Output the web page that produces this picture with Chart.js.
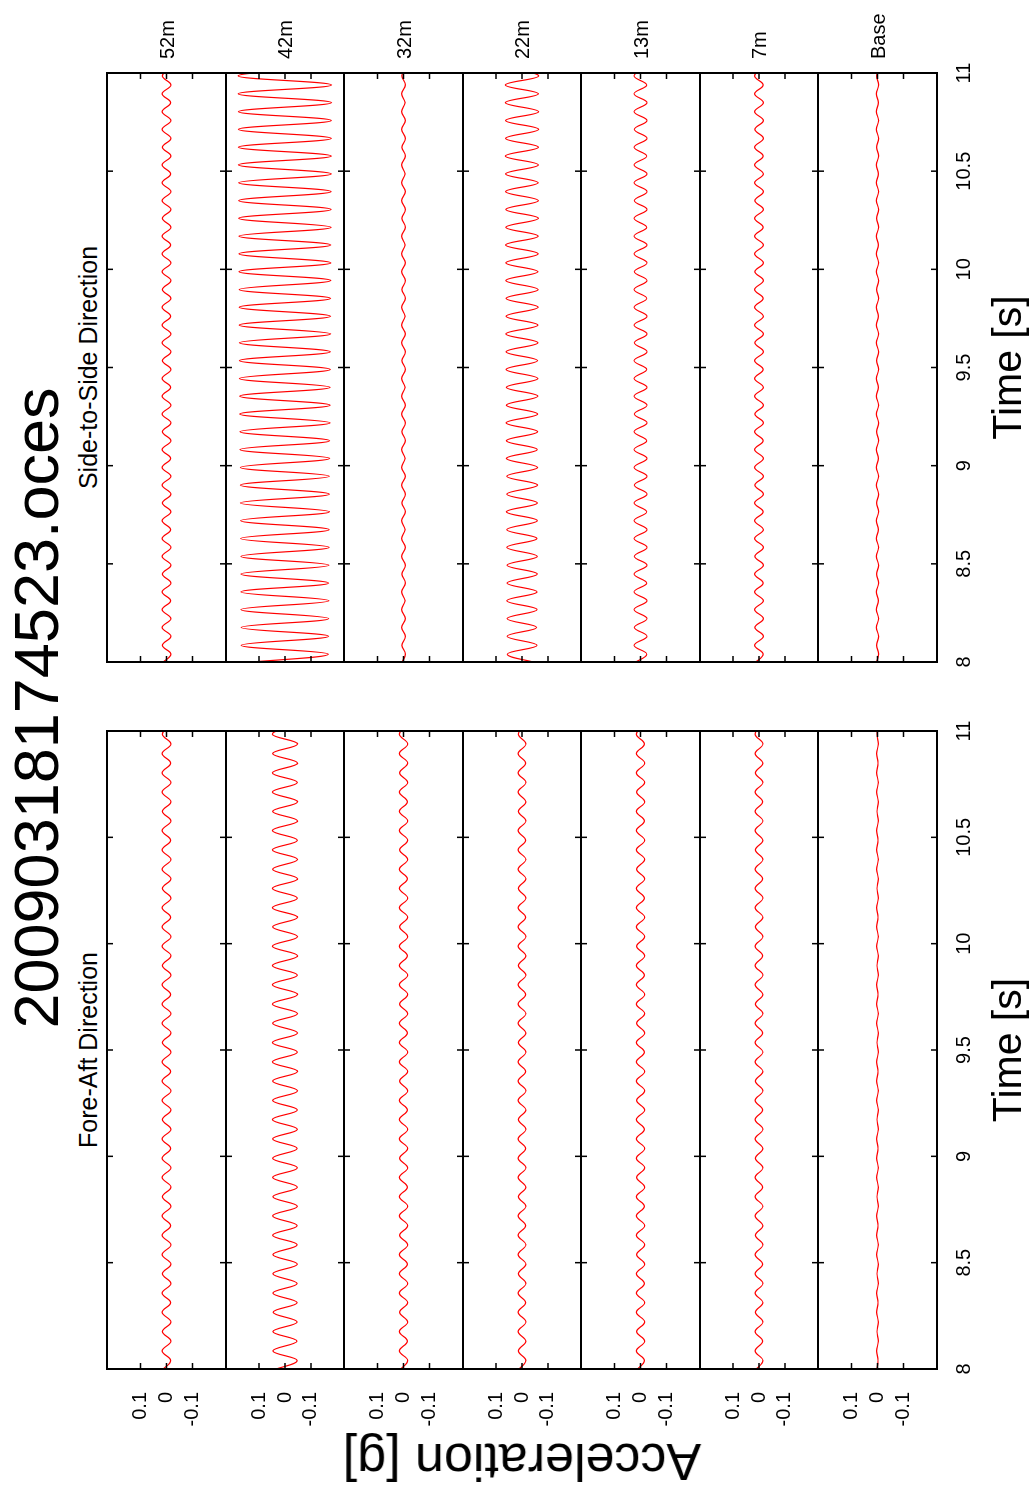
<!DOCTYPE html>
<html>
<head>
<meta charset="utf-8">
<script src="https://cdn.jsdelivr.net/npm/chart.js@4.4.1/dist/chart.umd.min.js"></script>
<style>
html, body { margin: 0; padding: 0; background: #fff; width: 1034px; height: 1495px; overflow: hidden; }
/* the plot is laid out in landscape and turned a quarter turn to the left */
#page { position: absolute; left: 0; top: 0; width: 1495px; height: 1034px; transform-origin: 0 0;
        transform: translate(0px, 1495px) rotate(-90deg); font-family: "Liberation Sans", Arial, sans-serif; color: #000; }
.lbl { position: absolute; white-space: nowrap; line-height: 1; }
canvas { position: absolute; }
</style>
</head>
<body>
<div id="page"></div>
<script>
// time of each extreme of the traces [s]
const time = [7.995,8.040,8.085,8.131,8.176,8.221,8.267,8.312,8.357,8.402,
  8.448,8.493,8.538,8.584,8.629,8.674,8.720,8.765,8.810,8.855,
  8.901,8.946,8.991,9.037,9.082,9.127,9.173,9.218,9.263,9.308,
  9.354,9.399,9.444,9.490,9.535,9.580,9.626,9.671,9.716,9.761,
  9.807,9.852,9.897,9.943,9.988,10.033,10.079,10.124,10.169,10.214,
  10.260,10.305,10.350,10.396,10.441,10.486,10.532,10.577,10.622,10.667,
  10.713,10.758,10.803,10.849,10.894,10.939,10.985,11.030];

const stations = ['52m', '42m', '32m', '22m', '13m', '7m', 'Base'];
const timeTicks = [8, 8.5, 9, 9.5, 10, 10.5, 11];
const accTicks = [-0.1, 0, 0.1];

// Fore-Aft acceleration [g]
const fa52 = [0.017,-0.016,0.017,-0.017,0.016,-0.017,0.017,-0.016,0.017,-0.017,
  0.016,-0.017,0.017,-0.017,0.017,-0.016,0.017,-0.017,0.016,-0.017,
  0.017,-0.017,0.017,-0.016,0.017,-0.017,0.016,-0.017,0.017,-0.017,
  0.017,-0.016,0.017,-0.017,0.016,-0.017,0.017,-0.017,0.017,-0.016,
  0.017,-0.017,0.016,-0.017,0.017,-0.017,0.017,-0.016,0.017,-0.017,
  0.016,-0.017,0.017,-0.017,0.017,-0.016,0.017,-0.017,0.016,-0.017,
  0.017,-0.017,0.017,-0.016,0.017,-0.017,0.016,-0.017];
const fa42 = [0.046,-0.047,0.047,-0.046,0.047,-0.047,0.046,-0.047,0.047,-0.047,
  0.047,-0.048,0.047,-0.047,0.048,-0.047,0.048,-0.048,0.047,-0.048,
  0.048,-0.048,0.048,-0.047,0.048,-0.048,0.049,-0.048,0.048,-0.049,
  0.048,-0.049,0.049,-0.048,0.049,-0.049,0.048,-0.049,0.049,-0.049,
  0.049,-0.048,0.049,-0.049,0.049,-0.049,0.048,-0.049,0.049,-0.048,
  0.049,-0.049,0.048,-0.049,0.049,-0.048,0.049,-0.049,0.048,-0.049,
  0.049,-0.048,0.049,-0.049,0.048,-0.049,0.049,-0.048];
const fa32 = [0.015,-0.016,0.016,-0.015,0.016,-0.016,0.015,-0.016,0.016,-0.016,
  0.016,-0.015,0.016,-0.016,0.015,-0.016,0.016,-0.016,0.016,-0.015,
  0.016,-0.016,0.015,-0.016,0.016,-0.016,0.016,-0.015,0.016,-0.016,
  0.015,-0.016,0.016,-0.016,0.016,-0.015,0.016,-0.016,0.015,-0.016,
  0.016,-0.016,0.016,-0.015,0.016,-0.016,0.015,-0.016,0.016,-0.016,
  0.016,-0.015,0.016,-0.016,0.015,-0.016,0.016,-0.016,0.016,-0.015,
  0.016,-0.016,0.015,-0.016,0.016,-0.016,0.016,-0.015];
const fa22 = [0.015,-0.015,0.014,-0.015,0.015,-0.015,0.015,-0.014,0.015,-0.015,
  0.014,-0.015,0.015,-0.015,0.015,-0.014,0.015,-0.015,0.014,-0.015,
  0.015,-0.015,0.015,-0.014,0.015,-0.015,0.014,-0.015,0.015,-0.015,
  0.015,-0.014,0.015,-0.015,0.014,-0.015,0.015,-0.015,0.015,-0.014,
  0.015,-0.015,0.014,-0.015,0.015,-0.015,0.015,-0.014,0.015,-0.015,
  0.014,-0.015,0.015,-0.015,0.015,-0.014,0.015,-0.015,0.014,-0.015,
  0.015,-0.015,0.015,-0.014,0.015,-0.015,0.014,-0.015];
const fa13 = [0.016,-0.015,0.016,-0.016,0.015,-0.016,0.016,-0.016,0.016,-0.015,
  0.016,-0.016,0.015,-0.016,0.016,-0.016,0.016,-0.015,0.016,-0.016,
  0.015,-0.016,0.016,-0.016,0.016,-0.015,0.016,-0.016,0.015,-0.016,
  0.016,-0.016,0.016,-0.015,0.016,-0.016,0.015,-0.016,0.016,-0.016,
  0.016,-0.015,0.016,-0.016,0.015,-0.016,0.016,-0.016,0.016,-0.015,
  0.016,-0.016,0.015,-0.016,0.016,-0.016,0.016,-0.015,0.016,-0.016,
  0.015,-0.016,0.016,-0.016,0.016,-0.015,0.016,-0.016];
const fa7 = [0.014,-0.015,0.015,-0.014,0.015,-0.015,0.014,-0.015,0.015,-0.015,
  0.015,-0.014,0.015,-0.015,0.014,-0.015,0.015,-0.015,0.015,-0.014,
  0.015,-0.015,0.014,-0.015,0.015,-0.015,0.015,-0.014,0.015,-0.015,
  0.014,-0.015,0.015,-0.015,0.015,-0.014,0.015,-0.015,0.014,-0.015,
  0.015,-0.015,0.015,-0.014,0.015,-0.015,0.014,-0.015,0.015,-0.015,
  0.015,-0.014,0.015,-0.015,0.014,-0.015,0.015,-0.015,0.015,-0.014,
  0.015,-0.015,0.014,-0.015,0.015,-0.015,0.015,-0.014];
const faBase = [0.003,-0.002,0.003,-0.003,0.002,-0.003,0.003,-0.002,0.003,-0.003,
  0.002,-0.003,0.003,-0.003,0.003,-0.002,0.003,-0.003,0.002,-0.003,
  0.003,-0.003,0.003,-0.002,0.003,-0.003,0.002,-0.003,0.003,-0.003,
  0.003,-0.002,0.003,-0.003,0.002,-0.003,0.003,-0.003,0.003,-0.002,
  0.003,-0.003,0.002,-0.003,0.003,-0.003,0.003,-0.002,0.003,-0.003,
  0.002,-0.003,0.003,-0.003,0.003,-0.002,0.003,-0.003,0.002,-0.003,
  0.003,-0.003,0.003,-0.002,0.003,-0.003,0.002,-0.003];

// Side-to-Side acceleration [g]
const ss52 = [0.017,-0.017,0.016,-0.017,0.017,-0.017,0.017,-0.016,0.017,-0.017,
  0.016,-0.017,0.017,-0.017,0.017,-0.016,0.017,-0.017,0.016,-0.017,
  0.017,-0.017,0.017,-0.016,0.017,-0.017,0.016,-0.017,0.017,-0.017,
  0.017,-0.016,0.017,-0.017,0.016,-0.017,0.017,-0.017,0.017,-0.016,
  0.017,-0.017,0.016,-0.017,0.017,-0.017,0.017,-0.016,0.017,-0.017,
  0.016,-0.017,0.017,-0.017,0.017,-0.016,0.017,-0.017,0.016,-0.017,
  0.017,-0.017,0.017,-0.016,0.017,-0.017,0.016,-0.017];
const ss42 = [0.169,-0.168,0.170,-0.169,0.170,-0.169,0.171,-0.170,0.171,-0.169,
  0.171,-0.170,0.171,-0.171,0.172,-0.171,0.172,-0.172,0.173,-0.172,
  0.173,-0.172,0.173,-0.173,0.174,-0.173,0.174,-0.174,0.175,-0.174,
  0.175,-0.174,0.176,-0.175,0.176,-0.175,0.176,-0.176,0.177,-0.176,
  0.177,-0.176,0.177,-0.177,0.178,-0.177,0.178,-0.177,0.178,-0.178,
  0.179,-0.178,0.179,-0.178,0.179,-0.179,0.180,-0.179,0.180,-0.179,
  0.180,-0.179,0.180,-0.180,0.181,-0.180,0.181,-0.180];
const ss32 = [0.007,-0.007,0.006,-0.007,0.007,-0.007,0.007,-0.006,0.007,-0.007,
  0.006,-0.007,0.007,-0.007,0.007,-0.006,0.007,-0.007,0.006,-0.007,
  0.007,-0.007,0.007,-0.006,0.007,-0.007,0.006,-0.007,0.007,-0.007,
  0.007,-0.006,0.007,-0.007,0.006,-0.007,0.007,-0.007,0.007,-0.006,
  0.007,-0.007,0.006,-0.007,0.007,-0.007,0.007,-0.006,0.007,-0.007,
  0.006,-0.007,0.007,-0.007,0.007,-0.006,0.007,-0.007,0.006,-0.007,
  0.007,-0.007,0.007,-0.006,0.007,-0.007,0.006,-0.007];
const ss22 = [-0.058,0.057,-0.058,0.058,-0.057,0.058,-0.058,0.059,-0.058,0.058,
  -0.059,0.058,-0.059,0.059,-0.058,0.059,-0.059,0.060,-0.059,0.059,
  -0.060,0.059,-0.060,0.060,-0.059,0.060,-0.060,0.061,-0.060,0.060,
  -0.061,0.060,-0.061,0.061,-0.060,0.061,-0.061,0.062,-0.061,0.061,
  -0.062,0.061,-0.062,0.062,-0.061,0.062,-0.062,0.063,-0.062,0.062,
  -0.063,0.062,-0.063,0.063,-0.062,0.063,-0.063,0.064,-0.063,0.063,
  -0.064,0.063,-0.064,0.064,-0.063,0.064,-0.064,0.065];
const ss13 = [0.025,-0.024,0.025,-0.025,0.024,-0.025,0.025,-0.025,0.025,-0.024,
  0.025,-0.025,0.024,-0.025,0.025,-0.025,0.025,-0.024,0.025,-0.025,
  0.024,-0.025,0.025,-0.025,0.025,-0.024,0.025,-0.025,0.024,-0.025,
  0.025,-0.025,0.025,-0.024,0.025,-0.025,0.024,-0.025,0.025,-0.025,
  0.025,-0.024,0.025,-0.025,0.024,-0.025,0.025,-0.025,0.025,-0.024,
  0.025,-0.025,0.024,-0.025,0.025,-0.025,0.025,-0.024,0.025,-0.025,
  0.024,-0.025,0.025,-0.025,0.025,-0.024,0.025,-0.025];
const ss7 = [0.017,-0.016,0.017,-0.017,0.016,-0.017,0.017,-0.017,0.017,-0.016,
  0.017,-0.017,0.016,-0.017,0.017,-0.017,0.017,-0.016,0.017,-0.017,
  0.016,-0.017,0.017,-0.017,0.017,-0.016,0.017,-0.017,0.016,-0.017,
  0.017,-0.017,0.017,-0.016,0.017,-0.017,0.016,-0.017,0.017,-0.017,
  0.017,-0.016,0.017,-0.017,0.016,-0.017,0.017,-0.017,0.017,-0.016,
  0.017,-0.017,0.016,-0.017,0.017,-0.017,0.017,-0.016,0.017,-0.017,
  0.016,-0.017,0.017,-0.017,0.017,-0.016,0.017,-0.017];
const ssBase = [0.004,-0.004,0.003,-0.004,0.004,-0.004,0.004,-0.003,0.004,-0.004,
  0.003,-0.004,0.004,-0.004,0.004,-0.003,0.004,-0.004,0.003,-0.004,
  0.004,-0.004,0.004,-0.003,0.004,-0.004,0.003,-0.004,0.004,-0.004,
  0.004,-0.003,0.004,-0.004,0.003,-0.004,0.004,-0.004,0.004,-0.003,
  0.004,-0.004,0.003,-0.004,0.004,-0.004,0.004,-0.003,0.004,-0.004,
  0.003,-0.004,0.004,-0.004,0.004,-0.003,0.004,-0.004,0.003,-0.004,
  0.004,-0.004,0.004,-0.003,0.004,-0.004,0.003,-0.004];

const foreAft = [fa52, fa42, fa32, fa22, fa13, fa7, faBase];
const sideToSide = [ss52, ss42, ss32, ss22, ss13, ss7, ssBase];

const page = document.getElementById('page');
const FONT = '"Liberation Sans", Arial, sans-serif';

// panel boxes in landscape pixels
const panels = [
  { x0: 126, x1: 764, series: foreAft, title: 'Fore-Aft Direction', yLabels: true },
  { x0: 833, x1: 1422, series: sideToSide, title: 'Side-to-Side Direction', yLabels: false }
];
const rowEdges = [107, 226, 344, 463, 581, 700, 818, 937];
const yLim = 0.228;

// gnuplot style border with inward ticks on all four sides
const framePlugin = {
  id: 'frame',
  afterDatasetsDraw(chart) {
    const { ctx, chartArea: a, scales: { x, y } } = chart;
    ctx.save();
    ctx.strokeStyle = '#000';
    ctx.lineWidth = 1.5;
    ctx.beginPath();
    timeTicks.forEach(t => {
      const px = x.getPixelForValue(t);
      ctx.moveTo(px, a.top); ctx.lineTo(px, a.top + 6);
      ctx.moveTo(px, a.bottom); ctx.lineTo(px, a.bottom - 6);
    });
    accTicks.forEach(v => {
      const py = y.getPixelForValue(v);
      ctx.moveTo(a.left, py); ctx.lineTo(a.left + 6, py);
      ctx.moveTo(a.right, py); ctx.lineTo(a.right - 6, py);
    });
    ctx.stroke();
    ctx.lineWidth = 2;
    ctx.strokeRect(a.left, a.top, a.right - a.left, a.bottom - a.top);
    ctx.restore();
  }
};

function addText(txt, css) {
  const d = document.createElement('div');
  d.className = 'lbl';
  d.textContent = txt;
  Object.assign(d.style, css);
  page.appendChild(d);
  return d;
}

panels.forEach(p => {
  const padL = p.yLabels ? 90 : 24, padR = 24;
  p.series.forEach((vals, i) => {
    const top = rowEdges[i], h = rowEdges[i + 1] - top;
    const bottomRow = i === p.series.length - 1;
    const cv = document.createElement('canvas');
    cv.width = padL + (p.x1 - p.x0) + padR;
    cv.height = h + 4 + (bottomRow ? 50 : 4);
    cv.style.left = (p.x0 - padL) + 'px';
    cv.style.top = (top - 4) + 'px';
    page.appendChild(cv);

    new Chart(cv, {
      type: 'line',
      data: {
        datasets: [{
          data: time.map((t, k) => ({ x: t, y: vals[k] })),
          borderColor: '#ff0000',
          borderWidth: 1.2,
          pointRadius: 0,
          tension: 0.4,
          fill: false
        }]
      },
      options: {
        responsive: false,
        animation: false,
        events: [],
        layout: { padding: { left: p.yLabels ? 4 : padL, right: padR, top: 4, bottom: bottomRow ? 0 : 4 } },
        plugins: { legend: { display: false }, tooltip: { enabled: false } },
        scales: {
          x: {
            type: 'linear', min: 8, max: 11,
            display: bottomRow,
            grid: { display: false, drawTicks: false },
            border: { display: false },
            afterBuildTicks: s => { s.ticks = timeTicks.map(v => ({ value: v })); },
            afterFit: s => { if (bottomRow) s.height = 50; s.paddingLeft = 0; s.paddingRight = 0; },
            ticks: { padding: 15, color: '#000', maxRotation: 0, autoSkip: false,
                     font: { family: FONT, size: 20 }, callback: v => String(v) }
          },
          y: {
            type: 'linear', min: -yLim, max: yLim,
            display: p.yLabels,
            grid: { display: false, drawTicks: false },
            border: { display: false },
            afterBuildTicks: s => { s.ticks = accTicks.map(v => ({ value: v })); },
            afterFit: s => { if (p.yLabels) s.width = 86; s.paddingTop = 0; s.paddingBottom = 0; },
            ticks: { padding: 23, color: '#000', autoSkip: false,
                     font: { family: FONT, size: 20 }, callback: v => v === 0 ? '0' : v.toFixed(1) }
          }
        }
      },
      plugins: [framePlugin]
    });
  });

  const cx = (p.x0 + p.x1) / 2;
  addText(p.title, { left: cx + 'px', top: '76px', fontSize: '25px', transform: 'translateX(-50%)' });
  addText('Time [s]', { left: cx + 'px', top: '987px', fontSize: '41px', transform: 'translateX(-50%)' });
});

// station names right of the Side-to-Side panel
stations.forEach((s, i) => {
  const mid = (rowEdges[i] + rowEdges[i + 1]) / 2;
  addText(s, { left: '1436px', top: mid + 'px', fontSize: '20px', transform: 'translateY(-50%)' });
});

addText('20090318174523.oces', { left: '787px', top: '5px', fontSize: '63px', transform: 'translateX(-50%)' });
addText('Acceleration [g]', { left: '33px', top: '522px', fontSize: '52px', transform: 'translate(-50%, -50%) rotate(-90deg)' });
</script>
</body>
</html>
